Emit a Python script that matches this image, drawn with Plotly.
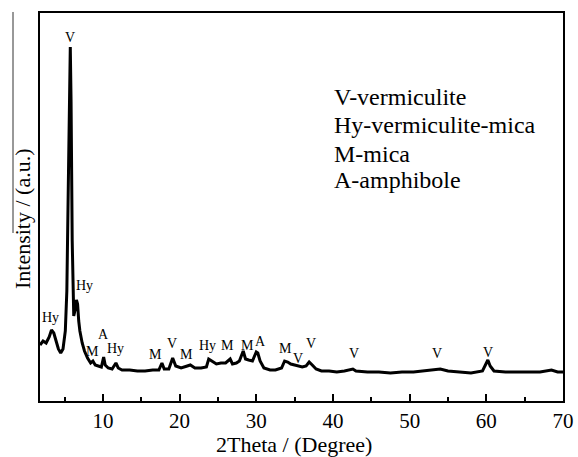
import plotly.graph_objects as go

# XRD pattern (2Theta in degrees, intensity in arbitrary units)
two_theta = [1.8, 2.2, 2.6, 3.0, 3.3, 3.6, 3.9, 4.2, 4.5, 4.8, 5.1, 5.3, 5.5, 5.65, 5.75, 5.85,
             6.0, 6.2, 6.4, 6.55, 6.7, 6.85, 7.0, 7.3, 7.6, 8.0, 8.4, 8.7, 9.0, 9.4, 9.8, 10.1,
             10.3, 10.7, 11.2, 11.7, 12.0, 12.5, 13.5, 14.5, 15.5, 16.5, 17.3, 17.7, 18.0, 18.6,
             19.1, 19.5, 20.2, 21.0, 21.4, 22.0, 22.8, 23.5, 23.8, 24.2, 24.8, 25.4, 26.0, 26.6,
             26.9, 27.4, 27.8, 28.3, 28.6, 29.0, 29.5, 30.0, 30.2, 30.5, 31.0, 31.8, 32.5, 33.3,
             33.7, 34.1, 34.5, 35.0, 35.4, 36.0, 36.5, 36.9, 37.3, 37.8, 38.5, 39.5, 40.5, 41.5,
             42.6, 43.0, 44.5, 46.0, 47.5, 49.0, 50.5, 52.0, 53.0, 54.0, 55.0, 56.5, 58.0, 59.5,
             60.0, 60.2, 60.5, 61.0, 62.5, 64.0, 65.5, 67.0, 68.5, 69.3, 70.0]
intensity = [56, 60, 58, 64, 71, 68, 60, 52, 48, 52, 70, 110, 220, 340, 354, 300,
             160, 85, 92, 101, 97, 80, 70, 58, 50, 43, 38, 40, 36, 35, 34, 44,
             36, 33, 32, 38, 33, 31, 31, 30, 30, 31, 31, 38, 32, 32,
             43, 35, 33, 35, 36, 33, 33, 34, 42, 40, 37, 38, 38, 42,
             37, 38, 40, 50, 42, 41, 40, 49, 48, 40, 33, 31, 31, 33,
             40, 39, 37, 36, 35, 34, 35, 39, 36, 32, 30, 30, 29, 30,
             32, 30, 29, 29, 28, 29, 29, 30, 31, 32, 30, 29, 28, 30,
             38, 41, 35, 30, 29, 29, 29, 29, 31, 29, 29]

# Phase labels above peaks
peak_labels = ["V", "Hy", "Hy", "M", "A", "Hy", "M", "V", "M", "Hy", "M", "M", "A",
               "M", "V", "V", "V", "V", "V"]
peak_x = [5.69, 3.2, 7.6, 8.7, 10.1, 11.7, 16.9, 19.0, 20.9, 23.6, 26.3, 28.8, 30.6,
          33.8, 35.5, 37.2, 42.8, 53.6, 60.2]
peak_y = [364, 84, 116, 50, 67, 53, 47, 58, 47, 56, 56, 56, 60,
          53, 43, 58, 48, 48, 49]

legend_lines = ["V-vermiculite", "Hy-vermiculite-mica", "M-mica", "A-amphibole"]

x_ticks = [10, 20, 30, 40, 50, 60, 70]

FONT = "Liberation Serif"

fig = go.Figure()
fig.add_trace(go.Scatter(x=two_theta, y=intensity, mode="lines",
                         line=dict(color="black", width=3), showlegend=False,
                         hoverinfo="skip"))

annotations = []
for t, xv, yv in zip(peak_labels, peak_x, peak_y):
    annotations.append(dict(x=xv, y=yv, xref="x", yref="y", text=t, showarrow=False,
                            font=dict(family=FONT, size=14, color="black"),
                            xanchor="center", yanchor="middle"))

legend_y = [0.784, 0.711, 0.637, 0.570]
for t, yv in zip(legend_lines, legend_y):
    annotations.append(dict(x=0.558, y=yv, xref="paper", yref="paper", text=t,
                            showarrow=False, xanchor="left", yanchor="middle",
                            font=dict(family=FONT, size=24, color="black")))

annotations.append(dict(x=0.486, y=-0.113, xref="paper", yref="paper",
                        text="2Theta / (Degree)", showarrow=False,
                        xanchor="center", yanchor="middle",
                        font=dict(family=FONT, size=22, color="black")))
annotations.append(dict(x=-0.0344, y=0.469, xref="paper", yref="paper",
                        text="Intensity / (a.u.)", showarrow=False, textangle=-90,
                        xanchor="center", yanchor="middle",
                        font=dict(family=FONT, size=22, color="black")))

fig.update_layout(
    width=578, height=457,
    margin=dict(l=40, r=15, t=13, b=56, autoexpand=False),
    plot_bgcolor="white", paper_bgcolor="white",
    annotations=annotations,
    shapes=[dict(type="line", xref="paper", yref="paper", x0=-0.0516, x1=-0.0516,
                 y0=0.433, y1=1.0026, line=dict(color="#333333", width=1))],
    xaxis=dict(range=[1.8, 70], tickvals=x_ticks, ticktext=[str(v) for v in x_ticks],
               ticks="inside", ticklen=7, tickwidth=1.5, tickcolor="black",
               minor=dict(dtick=5, tick0=0, ticks="inside", ticklen=4, tickwidth=1.5,
                          tickcolor="black"),
               showline=True, linecolor="black", linewidth=1.5, mirror=True,
               showgrid=False, zeroline=False, automargin=False,
               tickfont=dict(family=FONT, size=21, color="black")),
    yaxis=dict(range=[0, 388], showticklabels=False, ticks="",
               showline=True, linecolor="black", linewidth=1.5, mirror=True,
               showgrid=False, zeroline=False, automargin=False),
)

fig.write_html("out.html", config={"displayModeBar": False},
               post_script="document.body.style.margin='0';document.body.style.padding='0';")
